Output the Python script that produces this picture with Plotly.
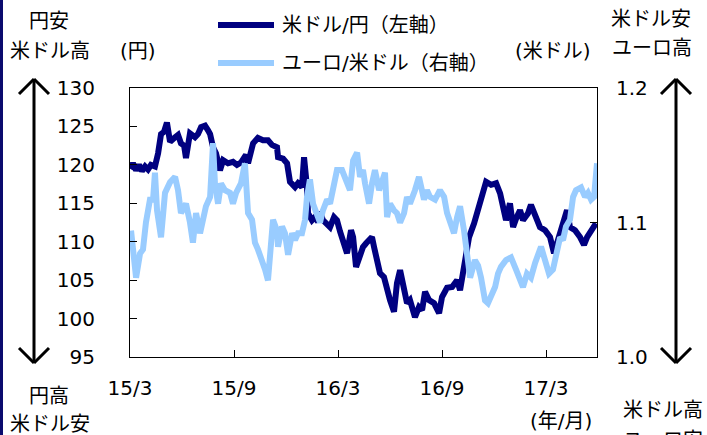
import plotly.graph_objects as go

# ---------------- data (x = months elapsed since 2015/3) ----------------
usdjpy_m = [0.00, 0.17, 0.35, 0.52, 0.69, 0.87, 1.04, 1.21, 1.44, 1.62, 1.79, 1.96, 2.13, 2.31,
            2.60, 2.77, 2.94, 3.12, 3.23, 3.46, 3.75, 3.92, 4.10, 4.33, 4.50, 4.62, 4.79, 4.96,
            5.19, 5.37, 5.65, 5.94, 6.17, 6.40, 6.69, 6.81, 7.10, 7.38, 7.67, 7.96, 8.19, 8.48,
            8.54, 8.83, 9.06, 9.23, 9.52, 9.69, 9.92, 10.04, 10.21, 10.27, 10.50, 10.67, 10.85,
            10.96, 11.13, 11.37, 11.54, 11.77, 11.94, 12.12, 12.29, 12.52, 12.75, 12.87, 13.04,
            13.27, 13.44, 13.62, 13.79, 13.96, 14.08, 14.25, 14.42, 14.65, 14.83, 15.00, 15.23,
            15.40, 15.58, 15.81, 15.98, 16.15, 16.44, 16.67, 16.85, 17.02, 17.25, 17.54, 17.83,
            18.00, 18.29, 18.58, 18.87, 19.04, 19.27, 19.56, 19.85, 20.08, 20.25, 20.54, 20.83,
            21.12, 21.35, 21.52, 21.69, 21.92, 22.10, 22.27, 22.50, 22.67, 22.96, 23.13, 23.37,
            23.65, 23.94, 24.23, 24.46, 24.69, 24.98, 25.21, 25.38, 25.67, 25.96, 26.19, 26.37,
            26.60, 26.88]
usdjpy = [119.5, 120.2, 119.3, 120.0, 119.2, 119.8, 119.4, 120.0, 119.8, 121.5, 124.0, 124.3, 125.5, 123.0,
          123.6, 123.9, 122.8, 122.5, 120.9, 124.1, 123.6, 124.0, 124.9, 125.1, 124.5, 124.0, 122.3, 121.5,
          119.3, 120.6, 120.2, 120.4, 120.0, 120.3, 121.3, 120.2, 122.8, 123.5, 123.2, 123.2, 122.6, 122.3,
          121.0, 120.8, 120.2, 117.8, 117.1, 117.6, 117.1, 121.0, 117.1, 113.7, 112.8, 113.2, 112.6,
          113.9, 112.8, 112.4, 111.9, 113.2, 112.8, 111.3, 110.0, 108.5, 111.5, 110.6, 106.7,
          108.5, 109.3, 109.8, 110.2, 110.6, 109.3, 107.2, 105.9, 105.4, 103.7, 102.4, 100.9,
          104.6, 106.3, 104.1, 102.0, 102.4, 100.2, 101.5, 101.1, 103.5, 102.4, 102.0, 100.7,
          102.8, 104.0, 104.1, 105.0, 103.7, 106.7, 110.6, 112.4, 114.1, 115.4, 117.8, 117.4,
          117.6, 116.3, 114.1, 112.8, 115.0, 111.9, 113.0, 114.1, 112.8, 113.7, 114.8, 113.2,
          111.9, 111.5, 110.6, 108.5, 110.2, 112.4, 114.1, 111.9, 111.5, 110.6, 109.6, 110.6,
          111.3, 112.4]

eurusd_m = [0.06, 0.17, 0.35, 0.58, 0.75, 0.92, 1.15, 1.33, 1.44, 1.56, 1.79, 2.02, 2.31, 2.60,
            2.77, 2.94, 3.23, 3.46, 3.63, 3.81, 4.04, 4.21, 4.38, 4.62, 4.79, 4.90, 5.08, 5.25,
            5.48, 5.77, 5.94, 6.12, 6.40, 6.63, 6.81, 7.04, 7.21, 7.38, 7.62, 7.79, 7.96, 8.13,
            8.25, 8.48, 8.54, 8.77, 8.94, 9.12, 9.35, 9.52, 9.69, 9.92, 10.10, 10.21, 10.38,
            10.56, 10.79, 10.96, 11.13, 11.37, 11.54, 11.71, 11.94, 12.23, 12.52, 12.69, 12.87,
            13.10, 13.27, 13.44, 13.56, 13.79, 13.96, 14.13, 14.37, 14.54, 14.71, 14.83, 15.00,
            15.23, 15.40, 15.58, 15.81, 15.98, 16.15, 16.44, 16.67, 16.96, 17.13, 17.31, 17.60,
            17.88, 18.12, 18.29, 18.46, 18.69, 18.87, 19.04, 19.27, 19.44, 19.62, 19.90, 20.08,
            20.25, 20.48, 20.65, 20.83, 21.06, 21.23, 21.40, 21.69, 21.98, 22.27, 22.50, 22.67,
            22.90, 23.13, 23.37, 23.54, 23.71, 23.94, 24.17, 24.40, 24.58, 24.81, 24.98, 25.15,
            25.38, 25.56, 25.73, 26.02, 26.25, 26.42, 26.60, 26.77, 26.94]
eurusd = [1.094, 1.080, 1.059, 1.077, 1.080, 1.100, 1.117, 1.117, 1.137, 1.109, 1.089, 1.122, 1.130, 1.134,
          1.124, 1.107, 1.114, 1.100, 1.085, 1.107, 1.092, 1.102, 1.112, 1.119, 1.159, 1.129, 1.114, 1.129,
          1.124, 1.122, 1.114, 1.122, 1.129, 1.144, 1.107, 1.102, 1.085, 1.080, 1.072, 1.065, 1.057, 1.082,
          1.102, 1.094, 1.082, 1.097, 1.092, 1.076, 1.092, 1.087, 1.092, 1.092, 1.102, 1.119, 1.132,
          1.114, 1.107, 1.100, 1.109, 1.117, 1.114, 1.126, 1.139, 1.139, 1.129, 1.124, 1.146,
          1.152, 1.134, 1.139, 1.129, 1.114, 1.129, 1.139, 1.124, 1.132, 1.137, 1.104, 1.114,
          1.109, 1.107, 1.100, 1.107, 1.119, 1.114, 1.124, 1.134, 1.117, 1.124, 1.119, 1.117,
          1.124, 1.119, 1.107, 1.100, 1.092, 1.104, 1.112, 1.094, 1.072, 1.059, 1.072, 1.068,
          1.059, 1.042, 1.040, 1.045, 1.052, 1.062, 1.067, 1.072, 1.074, 1.065, 1.057, 1.052,
          1.062, 1.059, 1.070, 1.077, 1.082, 1.072, 1.062, 1.065, 1.077, 1.089, 1.087, 1.097,
          1.102, 1.119, 1.124, 1.126, 1.119, 1.122, 1.117, 1.119, 1.144]

x_tickvals = [0, 6, 12, 18, 24]
x_ticktext = ["15/3", "15/9", "16/3", "16/9", "17/3"]
x_range = [0, 26.94]
left_range = [95, 130]
right_range = [1.0, 1.2]

name_jpy = "米ドル/円（左軸）"
name_eur = "ユーロ/米ドル（右軸）"

NAVY = "#000080"
LIGHT = "#99CCFF"
FONT = "DejaVu Sans, Noto Sans CJK JP, sans-serif"

# ---------------- layout geometry ----------------
W, H = 707, 435
L, R, T, B = 130, 110, 88, 78
PW, PH = W - L - R, H - T - B


def px(x):
    return (x - L) / PW


def py(y):
    return (H - B - y) / PH


fig = go.Figure()
fig.add_trace(go.Scatter(x=usdjpy_m, y=usdjpy, mode="lines", name=name_jpy,
                         line=dict(color=NAVY, width=6), yaxis="y", showlegend=False))
fig.add_trace(go.Scatter(x=eurusd_m, y=eurusd, mode="lines", name=name_eur,
                         line=dict(color=LIGHT, width=6), yaxis="y2", showlegend=False))

fig.update_layout(
    width=W, height=H, autosize=False,
    margin=dict(l=L, r=R, t=T, b=B, pad=0),
    paper_bgcolor="white", plot_bgcolor="white",
    font=dict(family=FONT, size=20, color="black"),
    xaxis=dict(range=x_range, tickvals=x_tickvals, ticktext=x_ticktext,
               ticks="inside", ticklen=7, tickcolor="black", tickwidth=1,
               showline=True, linecolor="black", linewidth=1, mirror=True,
               showgrid=False, zeroline=False, ticklabelstandoff=13,
               tickfont=dict(size=20)),
    yaxis=dict(range=left_range, dtick=5, ticks="inside", ticklen=7, tickcolor="black",
               showline=True, linecolor="black", linewidth=1, mirror=True,
               showgrid=False, zeroline=False, ticklabelstandoff=30,
               tickfont=dict(size=20)),
    yaxis2=dict(range=right_range, dtick=0.1, tickformat=".1f", overlaying="y", side="right",
                ticks="inside", ticklen=7, tickcolor="black",
                showline=False, showgrid=False, zeroline=False, ticklabelstandoff=18,
                tickfont=dict(size=20)),
)

shapes = []
# navy bar at the left edge
shapes.append(dict(type="rect", xref="paper", yref="paper", x0=px(0), x1=px(3),
                   y0=py(H), y1=py(0), fillcolor="#0b0b6e", line=dict(width=0), layer="above"))


def arrow(xc, ytop, ybot):
    lw = 3
    out = [dict(type="line", xref="paper", yref="paper", x0=px(xc), x1=px(xc),
                y0=py(ytop + 1), y1=py(ybot - 1), line=dict(color="black", width=lw))]
    for dx in (-15, 15):
        out.append(dict(type="line", xref="paper", yref="paper", x0=px(xc), x1=px(xc + dx),
                        y0=py(ytop), y1=py(ytop + 15), line=dict(color="black", width=lw)))
        out.append(dict(type="line", xref="paper", yref="paper", x0=px(xc), x1=px(xc + dx),
                        y0=py(ybot), y1=py(ybot - 15), line=dict(color="black", width=lw)))
    return out


shapes += arrow(34, 79, 363)
shapes += arrow(676, 79, 363)

# legend samples
shapes.append(dict(type="line", xref="paper", yref="paper", x0=px(218), x1=px(274),
                   y0=py(25), y1=py(25), line=dict(color=NAVY, width=6)))
shapes.append(dict(type="line", xref="paper", yref="paper", x0=px(218), x1=px(274),
                   y0=py(63), y1=py(63), line=dict(color=LIGHT, width=6)))
fig.update_layout(shapes=shapes)


def text(t, x, y, anchor="center"):
    fig.add_annotation(text=t, x=px(x), y=py(y), xref="paper", yref="paper",
                       xanchor=anchor, yanchor="middle", showarrow=False,
                       font=dict(family=FONT, size=20, color="black"))


text(name_jpy, 280, 25, "left")
text(name_eur, 280, 63, "left")
text("円安", 49, 21)
text("米ドル高", 50, 51)
text("(円)", 138, 51)
text("(米ドル)", 553, 51)
text("米ドル安", 651, 19)
text("ユーロ高", 652, 48)
text("円高", 49, 396)
text("米ドル安", 50, 424)
text("(年/月)", 561, 421)
text("米ドル高", 663, 410)
text("ユーロ安", 663, 440)

fig.write_html("out.html")
